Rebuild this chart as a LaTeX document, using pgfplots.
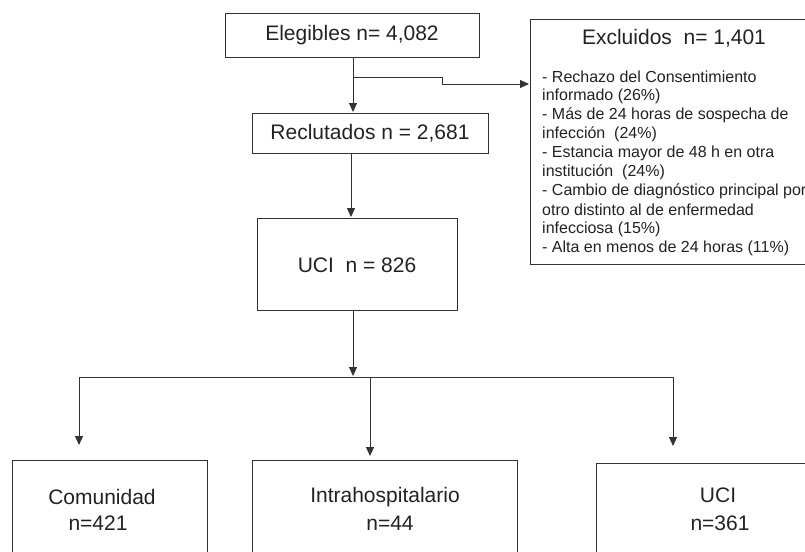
\documentclass[border=0pt]{standalone}
\usepackage{pgfplots}
\pgfplotsset{compat=1.18}
\usetikzlibrary{arrows.meta}
\usepackage{fontspec}
\setmainfont{Liberation Sans}
\definecolor{ln}{HTML}{333333}
\definecolor{tx}{HTML}{222222}
\tikzset{
  big/.style={font=\fontsize{21}{25}\selectfont, text=tx, inner sep=0pt},
  small/.style={font=\fontsize{16}{19}\selectfont, text=tx, inner sep=0pt, anchor=west},
  ll/.style={draw=ln, line width=0.9pt, mark=none, solid},
  arr/.style={ll, -{Triangle[length=9pt,width=8pt]}},
}
\begin{document}
\begin{tikzpicture}
\begin{axis}[
  width=805pt, height=551pt, scale only axis,
  xmin=0, xmax=805, ymin=0, ymax=551, y dir=reverse,
  axis lines=none, clip=true,
]
% boxes
\addplot[ll] coordinates {(225,13) (479,13) (479,57) (225,57) (225,13)};
\addplot[ll] coordinates {(252,113) (488,113) (488,153) (252,153) (252,113)};
\addplot[ll] coordinates {(257,218) (457,218) (457,310) (257,310) (257,218)};
\addplot[ll] coordinates {(530,264) (530,19) (815,19) (815,264) (530,264)};
\addplot[ll] coordinates {(12,560) (12,460) (207,460) (207,560)};
\addplot[ll] coordinates {(252,560) (252,460) (517,460) (517,560)};
\addplot[ll] coordinates {(596,560) (596,463) (815,463)};
% connectors
\addplot[arr] coordinates {(353,57) (353,112)};
\addplot[arr] coordinates {(353,77) (442,77) (442,84) (529,84)};
\addplot[arr] coordinates {(351,153) (351,217)};
\addplot[arr] coordinates {(353,310) (353,376)};
\addplot[ll] coordinates {(79,377) (673,377)};
\addplot[arr] coordinates {(79,377) (79,445)};
\addplot[arr] coordinates {(370,377) (370,456)};
\addplot[arr] coordinates {(673,377) (673,446)};
% texts
\node[big] at (axis cs:352,35) {Elegibles n= 4,082};
\node[big] at (axis cs:370,133) {Reclutados n = 2,681};
\node[big] at (axis cs:357,265) {UCI\ \ n = 826};
\node[big] at (axis cs:674,38) {Excluidos\ \ n= 1,401};
\node[big] at (axis cs:102,497) {Comunidad};
\node[big] at (axis cs:98,523) {n=421};
\node[big] at (axis cs:385,497) {Intrahospitalario};
\node[big] at (axis cs:390,523) {n=44};
\node[big] at (axis cs:718,495) {UCI};
\node[big] at (axis cs:720,523) {n=361};
\node[small] at (axis cs:542,77) {- Rechazo del Consentimiento};
\node[small] at (axis cs:542,96) {informado (26\%)};
\node[small] at (axis cs:542,115) {- Más de 24 horas de sospecha de};
\node[small] at (axis cs:542,134) {infección\ \ (24\%)};
\node[small] at (axis cs:542,153) {- Estancia mayor de 48 h en otra};
\node[small] at (axis cs:542,172) {institución\ \ (24\%)};
\node[small] at (axis cs:542,191) {- Cambio de diagnóstico principal por};
\node[small] at (axis cs:542,210) {otro distinto al de enfermedad};
\node[small] at (axis cs:542,229) {infecciosa (15\%)};
\node[small] at (axis cs:542,248) {- Alta en menos de 24 horas (11\%)};
\end{axis}
\pgfresetboundingbox
\path (current axis.south west) rectangle (current axis.north east);
\end{tikzpicture}
\end{document}
